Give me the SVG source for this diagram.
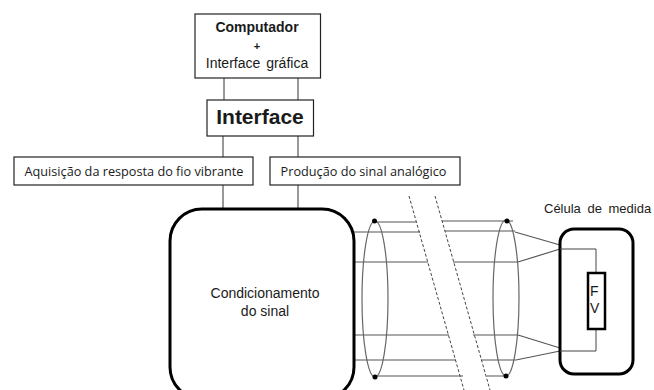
<svg xmlns="http://www.w3.org/2000/svg" width="654" height="390" viewBox="0 0 654 390">
<style>
text{font-family:"Liberation Sans",Arial,sans-serif;fill:#1a1a1a;font-size:14px}
.m{text-anchor:middle}
.o{font-family:"Open Sans","Noto Sans",sans-serif;font-size:12.7px}
.box{fill:#fff;stroke:#222;stroke-width:1.2}
.thick{fill:#fff;stroke:#000;stroke-width:3}
.w{fill:none;stroke:#333;stroke-width:1}
.g{fill:none;stroke:#555;stroke-width:1.2}
.d{fill:none;stroke:#444;stroke-width:1;stroke-dasharray:3 2}
.e{fill:none;stroke:#666;stroke-width:1.2}
</style>
<rect width="654" height="390" fill="#fff"/>
<g id="connectors">
<path class="w" d="M224 78V100M298 78V100M223 136V157M298 136V157M223 185V209M298 185V209"/>
<path class="g" d="M375 222H416M354 232H420M354 262H428M354 335H449M354 360H456M375 376H463"/>
<path class="g" d="M442 221H513M445 231H515M453 262H518M473 335H518M481 360H516M487 376H507"/>
<path class="d" d="M409 196L464 390M435 196L490 390"/>
<ellipse class="e" cx="375" cy="299" rx="13" ry="78"/>
<ellipse class="e" cx="506" cy="298" rx="13" ry="78"/>
<path class="g" d="M515 232L560 245M518 262L560 249M518 335L560 348M516 360L560 351"/>
<g fill="#000"><circle cx="374.500" cy="221" r="2.500"/><circle cx="375" cy="377" r="2.500"/><circle cx="507" cy="221" r="2.500"/><circle cx="506" cy="376" r="2.500"/></g>
</g>
<g id="computador">
<rect class="box" x="195" y="14" width="125.500" height="64"/>
<text class="m" x="257" y="32" font-weight="700">Computador</text>
<text class="m" x="257" y="50" font-weight="700" style="font-size:11px">+</text>
<text class="m" x="257" y="68" word-spacing="2">Interface gráfica</text>
</g>
<g id="interface">
<rect class="box" x="207" y="100" width="106.500" height="36"/>
<text class="m" x="260" y="124" font-weight="700" style="font-size:21px">Interface</text>
</g>
<g id="aquisicao">
<rect class="box" x="14" y="157" width="239" height="28"/>
<text class="m o" x="134" y="176">Aquisição da resposta do fio vibrante</text>
</g>
<g id="producao">
<rect class="box" x="270" y="157" width="190" height="28"/>
<text class="m o" x="363.500" y="176">Produção do sinal analógico</text>
</g>
<g id="condicionamento">
<rect class="thick" x="170" y="209" width="184" height="190" rx="32"/>
<text class="m" x="265" y="298">Condicionamento</text>
<text class="m" x="265" y="316">do sinal</text>
</g>
<g id="celula">
<text x="544" y="213" word-spacing="3" style="font-size:13px">Célula de medida</text>
<rect fill="#fff" stroke="#000" stroke-width="3" x="560" y="229" width="73" height="145" rx="14"/>
<path class="w" d="M560 249H596V273M596 329V351H560" style="stroke:#444"/>
<rect x="588" y="273" width="17" height="56" fill="#fff" stroke="#000" stroke-width="2.500"/>
<text x="590" y="296">F</text>
<text x="590" y="313">V</text>
</g>
</svg>
